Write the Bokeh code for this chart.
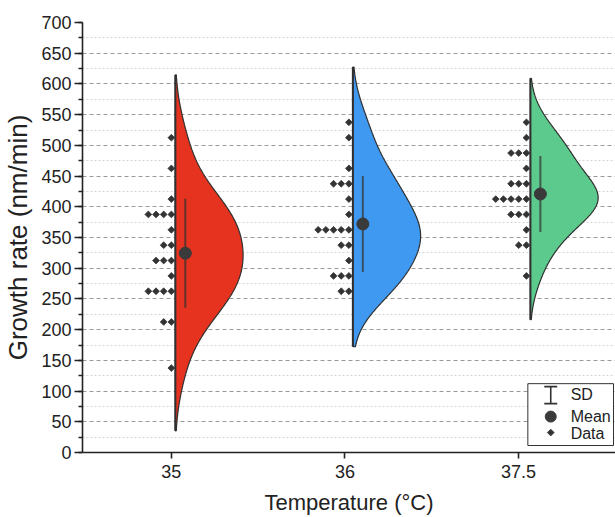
import numpy as np
from bokeh.plotting import figure
from bokeh.models import Range1d, FixedTicker, SingleIntervalTicker
from bokeh.core.properties import value
from bokeh.embed import file_html
from bokeh.resources import INLINE

# ---------------- data ----------------
categories = ["35", "36", "37.5"]
rates_35 = [512.5, 462.5, 412.5,
            387.5, 387.5, 387.5, 387.5,
            362.5, 337.5, 337.5,
            312.5, 312.5, 312.5, 287.5,
            262.5, 262.5, 262.5, 262.5,
            212.5, 212.5, 137.5]
rates_36 = [537.5, 512.5, 462.5,
            437.5, 437.5, 437.5, 412.5, 387.5,
            362.5, 362.5, 362.5, 362.5, 362.5,
            337.5, 337.5, 312.5,
            287.5, 287.5, 287.5, 262.5, 262.5]
rates_37_5 = [537.5, 512.5, 487.5, 487.5, 487.5, 462.5,
              437.5, 437.5, 437.5,
              412.5, 412.5, 412.5, 412.5, 412.5,
              387.5, 387.5, 387.5, 362.5,
              337.5, 337.5, 287.5]
series = [rates_35, rates_36, rates_37_5]
fill_colors = ["#E5331F", "#4099F0", "#5CC98D"]
legend_labels = ["SD", "Mean", "Data"]

# ---------------- layout constants ----------------
FONT = "Liberation Sans"
W, H = 615, 517
LEFT, TOP, BOTTOM = 80, 22, 64
FRAME_W = W - LEFT
FRAME_H = H - TOP - BOTTOM
X0 = 0.488
PPX = 174.2
X1 = X0 + FRAME_W / PPX
Y0, Y1 = 0, 700
PPY = FRAME_H / (Y1 - Y0)

p = figure(width=W, height=H, output_backend="svg", toolbar_location=None,
           x_range=Range1d(X0, X1), y_range=Range1d(Y0, Y1),
           min_border_left=LEFT, min_border_right=0, min_border_top=TOP,
           min_border_bottom=BOTTOM)
p.outline_line_color = None
p.background_fill_color = "white"
p.border_fill_color = "white"

# grid
p.xgrid.visible = False
p.ygrid.ticker = FixedTicker(ticks=list(range(50, 651, 50)),
                             minor_ticks=list(range(25, 700, 50)))
p.ygrid.grid_line_color = "#9a9a9a"
p.ygrid.grid_line_dash = "4 3"
p.ygrid.grid_line_width = 1
p.ygrid.minor_grid_line_color = "#d4d4d4"
p.ygrid.minor_grid_line_dash = "2 2"
p.ygrid.minor_grid_line_width = 1

# axes
p.yaxis.ticker = SingleIntervalTicker(interval=50, num_minor_ticks=2)
p.yaxis.axis_label = "Growth rate (nm/min)"
p.xaxis.ticker = FixedTicker(ticks=[1, 2, 3])
p.xaxis.major_label_overrides = {i + 1: c for i, c in enumerate(categories)}
p.xaxis.axis_label = "Temperature (°C)"
for ax in (p.xaxis[0], p.yaxis[0]):
    ax.axis_line_color = "#222222"
    ax.axis_line_width = 1.6
    ax.major_tick_line_color = "#222222"
    ax.major_tick_line_width = 1.6
    ax.minor_tick_line_color = "#222222"
    ax.minor_tick_line_width = 1.6
    ax.major_tick_in = 0
    ax.minor_tick_in = 0
    ax.major_label_text_font = FONT
    ax.major_label_text_color = "#222222"
    ax.axis_label_text_font = FONT
    ax.axis_label_text_font_style = "normal"
    ax.axis_label_text_color = "#222222"
p.yaxis.major_tick_out = 8
p.yaxis.minor_tick_out = 4
p.yaxis.major_label_text_font_size = "18px"
p.yaxis.major_label_standoff = 3
p.yaxis.axis_label_text_font_size = "26px"
p.yaxis.axis_label_standoff = 5
p.xaxis.major_tick_out = 6
p.xaxis.minor_tick_out = 0
p.xaxis.major_label_text_font_size = "18px"
p.xaxis.major_label_standoff = 6
p.xaxis.axis_label_text_font_size = "22px"
p.xaxis.axis_label_standoff = 9


def kde(vals):
    v = np.asarray(vals, float)
    n = len(v)
    bw = 1.06 * v.std(ddof=1) * n ** -0.2
    ys = np.linspace(v.min() - 2 * bw, v.max() + 2 * bw, 300)
    d = np.exp(-0.5 * ((ys[:, None] - v[None, :]) / bw) ** 2).sum(axis=1)
    return ys, d / d.max()


HALF_W = 68 / PPX          # violin max width
DOT_GAP = 7.7 / PPX        # spacing between stacked data dots
DOT_START = 4 / PPX        # first dot column left of violin base
MEAN_OFF = 10 / PPX        # mean dot right of violin base
shifts = [4 / PPX, 8 / PPX, 12 / PPX]

for i, vals in enumerate(series):
    base = (i + 1) + shifts[i]
    ys, d = kde(vals)
    xs = [base] + list(base + d * HALF_W) + [base]
    yy = [ys[0]] + list(ys) + [ys[-1]]
    p.patch(xs, yy, fill_color=fill_colors[i], line_color="#303030", line_width=1.2)
    p.segment(x0=[base], y0=[ys[0]], x1=[base], y1=[ys[-1]],
              line_color="#303030", line_width=2)

    # stacked data points
    counts = {}
    dx, dy = [], []
    for v in vals:
        k = counts.get(v, 0)
        counts[v] = k + 1
        dx.append(base - DOT_START - k * DOT_GAP)
        dy.append(v)
    p.scatter(dx, dy, marker="square", angle=np.pi / 4, size=4.8,
              fill_color="#333333", line_color="#333333", line_width=0.8)

    m = float(np.mean(vals))
    s = float(np.std(vals, ddof=1))
    p.segment(x0=[base + MEAN_OFF], y0=[m - s], x1=[base + MEAN_OFF], y1=[m + s],
              line_color="#333333", line_alpha=0.72, line_width=2)
    p.scatter([base + MEAN_OFF], [m], marker="circle", size=12,
              fill_color="#3a3a3a", line_color="#3a3a3a")


# ---------------- legend (laid out in canvas pixels) ----------------
def gx(px):
    return X0 + (px - LEFT) / PPX


def gy(py):
    return Y0 + (TOP + FRAME_H - py) / PPY


p.quad(left=[gx(527)], right=[gx(613)], top=[gy(384)], bottom=[gy(446)],
       fill_color="white", line_color="#333333", line_width=1)
lx = 550
p.segment(x0=[gx(lx), gx(lx - 6.5), gx(lx - 6.5)],
          y0=[gy(387), gy(387), gy(404)],
          x1=[gx(lx), gx(lx + 6.5), gx(lx + 6.5)],
          y1=[gy(404), gy(387), gy(404)],
          line_color="#333333", line_width=1.6)
p.scatter([gx(lx)], [gy(417)], marker="circle", size=11,
          fill_color="#3a3a3a", line_color="#3a3a3a")
p.scatter([gx(lx)], [gy(433)], marker="square", angle=np.pi / 4, size=4.8,
          fill_color="#333333", line_color="#333333", line_width=0.8)
p.text(x=[gx(570)] * 3, y=[gy(395), gy(417), gy(434)], text=legend_labels,
       text_font=value(FONT), text_font_size="16px", text_baseline="middle",
       text_align="left", text_color="#222222")

open("out.html", "w").write(file_html(p, INLINE))
